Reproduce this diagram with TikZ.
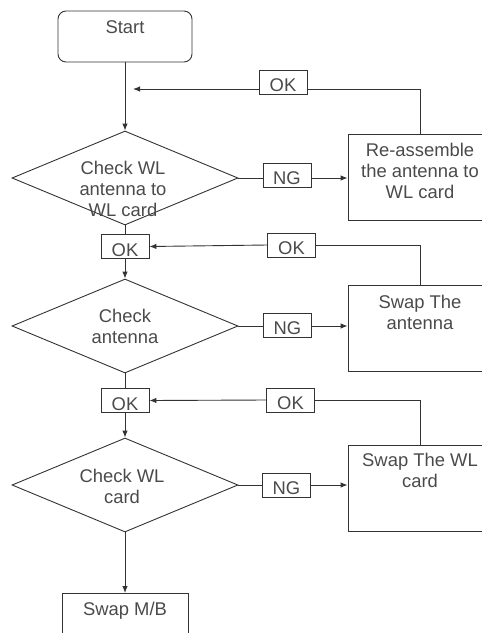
\documentclass[tikz,border=0pt]{standalone}
\usepackage{fontspec}
\setmainfont{Liberation Sans}
\usetikzlibrary{shapes.geometric,arrows.meta,positioning}
\definecolor{linegray}{HTML}{333333}
\definecolor{textgray}{HTML}{4A4A4A}

\begin{document}
\begin{tikzpicture}[
			x=1pt, y=-1pt,
			color=linegray, line width=0.9pt,
			>={Latex[length=7pt,width=5.5pt]},
			every node/.style={font=\fontsize{18.4}{21}\selectfont, text=textgray},
			box/.style={draw, minimum width=144pt, minimum height=86pt, inner sep=0pt},
			dec/.style={draw, diamond, minimum width=226pt, minimum height=94pt, inner sep=0pt},
			tag/.style={draw, inner xsep=2pt, inner ysep=1.5pt, text height=19.5pt, text depth=0pt, minimum width=48pt, minimum height=24pt},
			txt/.style={align=center, inner sep=0pt}
			]
			\useasboundingbox (0,0) rectangle (482,633);
			\clip (0,0) rectangle (482,633);
			
			% Start
			\node (start) [draw, rounded corners=8pt, minimum width=134pt, minimum height=51pt, inner sep=0pt] at (125,36.5) {};
			\node (start_t) [txt, below=10pt of start.north] {Start};
			
			% Check WL antenna to WL card
			\node (chk1) [dec] at (125,178) {};
			\node (chk1_t) [txt] at (123,189) {Check WL\\antenna to\\WL card};
			\node (ng1) [tag] at (287,175) {NG};
			\node (fix1) [box] at (420,177) {};
			\node (fix1_t) [txt, below=9pt of fix1.north] {Re-assemble\\the antenna to\\WL card};
			\node (ok1) [tag] at (283,82) {OK};
			\coordinate (back1) at (133,89);
			\draw[->] (start) -- (chk1);
			\draw (chk1.east) -- (ng1.west|-chk1.east);
			\draw[->] (ng1.east|-chk1.east) -- (fix1.west|-chk1.east);
			\draw (fix1.north) |- (ok1.east|-back1);
			\draw[->] (ok1.west|-back1) -- (back1);
			
			% Check antenna
			\node (ok2) [tag] at (125,246.5) {OK};
			\node (chk2) [dec] at (125,326) {};
			\node (chk2_t) [txt] at (125,326) {Check\\antenna};
			\node (ng2) [tag] at (287.5,325) {NG};
			\node (fix2) [box] at (420,328) {};
			\node (fix2_t) [txt, below=10pt of fix2.north] {Swap The\\antenna};
			\node (ok2b) [tag] at (291.5,245) {OK};
			\draw (chk1) -- (ok2);
			\draw[->] (ok2) -- (chk2);
			\draw (chk2.east) -- (ng2.west|-chk2.east);
			\draw[->] (ng2.east|-chk2.east) -- (fix2.west|-chk2.east);
			\draw (fix2.north) |- (ok2b.east);
			\draw[->] (ok2b.west) -- (ok2.east);
			
			% Check WL card
			\node (ok3) [tag] at (125,400.5) {OK};
			\node (chk3) [dec] at (125,485) {};
			\node (chk3_t) [txt] at (122,486) {Check WL\\card};
			\node (ng3) [tag] at (286.5,485) {NG};
			\node (fix3) [box] at (420,488) {};
			\node (fix3_t) [txt, below=8pt of fix3.north] {Swap The WL\\card};
			\node (ok3b) [tag] at (290.5,400) {OK};
			\draw (chk2) -- (ok3);
			\draw[->] (ok3) -- (chk3);
			\draw (chk3.east) -- (ng3.west|-chk3.east);
			\draw[->] (ng3.east|-chk3.east) -- (fix3.west|-chk3.east);
			\draw (fix3.north) |- (ok3b.east);
			\draw[->] (ok3b.west) -- (ok3.east);
			
			% Swap M/B
			\node (mb) [draw, minimum width=126pt, minimum height=80pt, inner sep=0pt, anchor=north] at (125,593) {};
			\node (mb_t) [txt, below=9pt of mb.north] {Swap M/B};
			\draw[->] (chk3) -- (mb);
		\end{tikzpicture}
\end{document}
